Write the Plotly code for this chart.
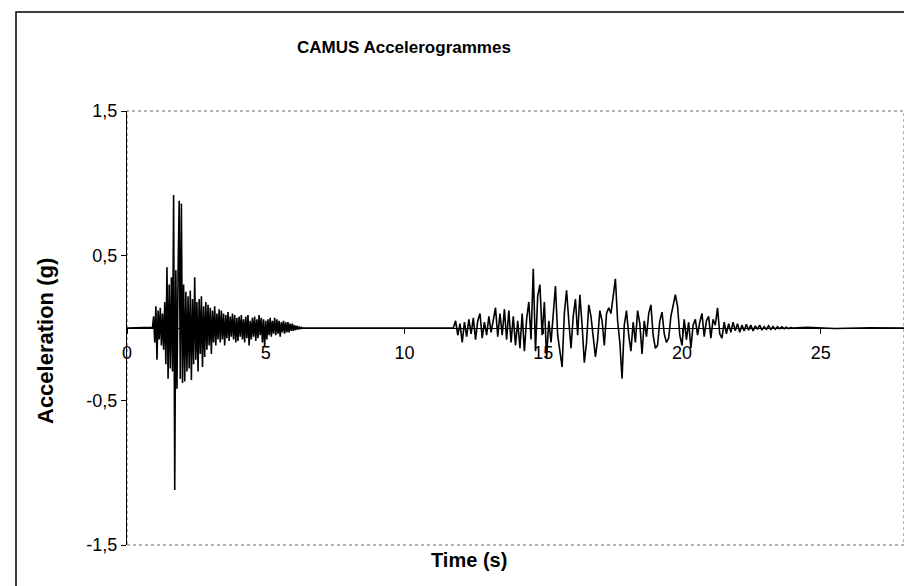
import numpy as np
import plotly.graph_objects as go

# ---------------- data ----------------
title_text = "CAMUS Accelerogrammes"
x_title = "Time (s)"
y_title = "Acceleration (g)"

x_tick_vals = [0, 5, 10, 15, 20, 25]
x_tick_text = ["0", "5", "10", "15", "20", "25"]
y_tick_vals = [-1.5, -0.5, 0.5, 1.5]
y_tick_text = ["-1,5", "-0,5", "0,5", "1,5"]

# quiet lead-in before the first burst
lead_time = [0.0, 0.5, 0.92]
lead_acc = [0.0, 0.005, 0.005]

# first burst, sampled every 0.04 s from 0.96 s
burst1_start = 0.96
burst1_dt = 0.04
burst1_acc = [
    0.08, -0.10, 0.15, -0.22, 0.12, -0.08, 0.14, -0.12, 0.10, -0.15,
    0.18, -0.25, 0.42, -0.35, 0.30, -0.28, 0.35, -0.30, 0.92, -1.12,
    0.40, -0.42, 0.38, 0.88, -0.35, 0.86, -0.38, 0.30, -0.37, 0.25,
    -0.30, 0.22, -0.28, 0.26, -0.36, 0.20, -0.25, 0.35, -0.22, 0.18,
    -0.30, 0.20, -0.18, 0.22, -0.27, 0.15, -0.20, 0.18, -0.15, 0.16,
    -0.12, 0.14, -0.18, 0.12, -0.10, 0.15, -0.12, 0.10, -0.08, 0.13,
    -0.10, 0.12, -0.08, 0.10, -0.12, 0.09, -0.07, 0.11, -0.09, 0.08,
    -0.06, 0.10, -0.08, 0.09, -0.10, 0.07, -0.09, 0.08, -0.06, 0.09,
    -0.08, 0.06, -0.10, 0.08, -0.07, 0.09, -0.12, 0.05, -0.08, 0.07,
    -0.06, 0.08, -0.09, 0.06, -0.07, 0.09, -0.05, 0.07, -0.10, 0.06,
    -0.13, 0.05, -0.08, 0.06, -0.05, 0.07, -0.06, 0.05, -0.04, 0.07,
    -0.05, 0.06, -0.04, 0.05, -0.06, 0.04, -0.03, 0.05, -0.04, 0.04,
    -0.03, 0.04, -0.03, 0.03, -0.02, 0.03, -0.02, 0.02, -0.015, 0.015,
    -0.01, 0.01, -0.008, 0.005, 0.0, 0.0,
]

# quiet gap between bursts
gap_time = [6.6, 9.0, 11.76]
gap_acc = [0.003, 0.002, 0.0]

# second burst, sampled every 0.08 s from 11.84 s
burst2_start = 11.84
burst2_dt = 0.08
burst2_acc = [
    0.05, -0.05, 0.03, -0.10, 0.04, -0.06, 0.06, -0.04, 0.07, -0.08,
    0.05, 0.10, -0.07, 0.04, -0.05, 0.08, -0.03, 0.06, 0.14, -0.06,
    0.10, -0.05, 0.13, -0.08, 0.12, -0.10, 0.08, -0.12, 0.05, -0.14,
    0.10, -0.16, 0.06, 0.18, -0.08, 0.41, -0.16, 0.22, 0.30, -0.05,
    0.18, -0.21, 0.05, -0.10, 0.12, 0.29, -0.05, -0.18, -0.27, 0.10,
    0.26, 0.05, -0.14, 0.08, 0.20, -0.05, 0.23, 0.02, -0.24, -0.10,
    0.16, 0.08, -0.05, -0.20, -0.08, 0.12, 0.05, -0.12, 0.10, 0.14,
    0.10, 0.22, 0.34, 0.05, -0.10, -0.35, 0.02, 0.12, -0.05, -0.16,
    0.04, -0.10, 0.12, 0.03, -0.18, 0.05, -0.06, 0.10, 0.16, -0.05,
    -0.14, -0.12, 0.05, 0.11, -0.04, -0.10, -0.07, 0.08, 0.15, 0.23,
    0.15, -0.05, -0.12, 0.06, -0.08, 0.04, -0.14, 0.02, 0.06, -0.05,
    0.04, 0.10, -0.06, 0.05, 0.08, -0.07, 0.06, 0.02, 0.14, -0.04,
    -0.07, 0.04, -0.04, 0.03, -0.03, 0.04, -0.02, 0.03, -0.03, 0.02,
    -0.02, 0.025, -0.015, 0.02, -0.02, 0.015, -0.01, 0.02, -0.015, 0.01,
    -0.01, 0.015, -0.01, 0.01, -0.008, 0.01, -0.005, 0.008, -0.005, 0.005,
    -0.004, 0.003, 0.0,
]

# quiet tail
tail_time = [24.5, 25.5, 26.8, 28.0]
tail_acc = [0.004, -0.003, 0.002, 0.0]

# ---------------- assemble series ----------------
burst1_time = list(burst1_start + burst1_dt * np.arange(len(burst1_acc)))
burst2_time = list(burst2_start + burst2_dt * np.arange(len(burst2_acc)))
time = lead_time + burst1_time + gap_time + burst2_time + tail_time
acc = lead_acc + burst1_acc + gap_acc + burst2_acc + tail_acc

FONT = "Arial, Liberation Sans, sans-serif"

fig = go.Figure()
fig.add_trace(go.Scatter(
    x=time, y=acc, mode="lines",
    line=dict(color="black", width=1.6),
    hoverinfo="skip", showlegend=False,
))

W, H = 912, 586
L, R, T, B = 119, 16, 103, 49
pw, ph = W - L - R, H - T - B


def px(x):
    return (x - L) / pw


def py(y):
    return (H - B - y) / ph


fig.update_layout(
    width=W, height=H,
    margin=dict(l=L, r=R, t=T, b=B),
    paper_bgcolor="white", plot_bgcolor="white",
    font=dict(family=FONT, color="black", size=17),
    showlegend=False,
    xaxis=dict(
        range=[0, 28], tickvals=x_tick_vals, ticktext=x_tick_text,
        anchor="free", position=0.5, showline=False, showgrid=False,
        zeroline=False, ticks="outside", ticklen=5, tickcolor="black",
        tickfont=dict(size=18, family=FONT), ticklabelstandoff=3,
    ),
    yaxis=dict(
        range=[-1.5, 1.5], tickvals=y_tick_vals, ticktext=y_tick_text,
        showline=True, linecolor="black", linewidth=1, showgrid=False,
        zeroline=True, zerolinecolor="black", zerolinewidth=1.2,
        ticks="outside", ticklen=5, tickcolor="black",
        tickfont=dict(size=18, family=FONT),
    ),
    shapes=[
        # plot-area frame
        dict(type="rect", xref="paper", yref="paper", x0=0, y0=0, x1=1, y1=1,
             line=dict(color="#666666", width=1, dash="dot"), layer="below"),
        # outer chart frame
        dict(type="rect", xref="paper", yref="paper",
             x0=px(8), y0=py(592), x1=px(920), y1=py(4),
             line=dict(color="black", width=1.5)),
    ],
    annotations=[
        dict(text="<b>" + title_text + "</b>", xref="paper", yref="paper",
             x=px(396), y=py(40), showarrow=False, xanchor="center",
             yanchor="middle", font=dict(size=17, family=FONT)),
        dict(text="<b>" + y_title + "</b>", xref="paper", yref="paper",
             x=px(37), y=py(333), showarrow=False, textangle=-90,
             xanchor="center", yanchor="middle",
             font=dict(size=22, family=FONT)),
        dict(text="<b>" + x_title + "</b>", xref="paper", yref="paper",
             x=px(461), y=py(552), showarrow=False, xanchor="center",
             yanchor="middle", font=dict(size=20, family=FONT)),
    ],
)

fig.write_html("out.html")
